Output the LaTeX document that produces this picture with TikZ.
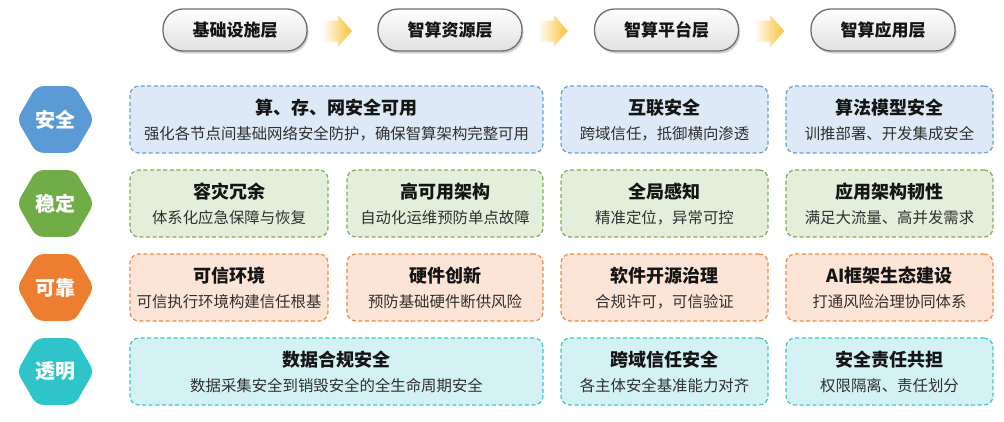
\documentclass[tikz,border=0pt]{standalone}
\usepackage{fontspec}
\setmainfont{Noto Sans CJK SC}
\usetikzlibrary{shapes.geometric,shadows,calc}
\definecolor{hexblue}{HTML}{5B9BD5}
\definecolor{hexgreen}{HTML}{70AD47}
\definecolor{hexorange}{HTML}{ED7D31}
\definecolor{hexteal}{HTML}{2EC4C9}
\definecolor{fillblue}{HTML}{DDE9F6}
\definecolor{fillgreen}{HTML}{E3EFDA}
\definecolor{fillorange}{HTML}{FCE4D6}
\definecolor{fillteal}{HTML}{D4F2F3}
\definecolor{lineblue}{HTML}{6A9FD8}
\definecolor{linegreen}{HTML}{7EAF58}
\definecolor{lineorange}{HTML}{EE8A4A}
\definecolor{lineteal}{HTML}{3EC6CA}
\definecolor{arrowY}{HTML}{F8C137}
\definecolor{pillline}{HTML}{6E6E6E}
\definecolor{titlecol}{HTML}{151515}
\definecolor{subcol}{HTML}{303030}
\tikzset{
  cellbox/.style={draw, dashed, dash pattern=on 4pt off 2.6pt, line width=1.2pt, rounded corners=9pt, inner sep=0pt},
  bluebox/.style={cellbox, draw=lineblue, fill=fillblue},
  greenbox/.style={cellbox, draw=linegreen, fill=fillgreen},
  orangebox/.style={cellbox, draw=lineorange, fill=fillorange},
  tealbox/.style={cellbox, draw=lineteal, fill=fillteal},
  ttl/.style={inner sep=0pt, text=titlecol, font=\fontsize{18}{21}\selectfont\bfseries},
  sub/.style={inner sep=0pt, text=subcol, font=\fontsize{15.4}{18}\selectfont},
  hexnode/.style={regular polygon, regular polygon sides=6, minimum size=77pt, inner sep=0pt, rounded corners=7pt, text=white, font=\fontsize{20}{23}\selectfont\bfseries},
  pill/.style={rectangle, rounded corners=20pt, minimum width=144pt, minimum height=42pt, draw=pillline, line width=1.3pt, top color=white, bottom color=black!12, drop shadow={opacity=0.35, shadow xshift=1.5pt, shadow yshift=-2.5pt}, font=\fontsize{17}{20}\selectfont\bfseries, text=titlecol},
}
\newcommand\cell[7]{%
  \node[#2, minimum width={#4-#3}, minimum height=67pt] (#1) at ({(#3+#4)/2},{#5+33.5}) {};
  \node[ttl] (#1t) at ($(#1.center)+(0,-12)$) {#6};
  \node[sub] (#1s) at ($(#1.center)+(0,14)$) {#7};
}
\newcommand\blockarrow[3]{%
  \coordinate (#1) at ($($(#2.east)!0.5!(#3.west)$)+(-5,1)$);
  \shade[left color=arrowY!4, right color=arrowY] ($(#1)+(-14.5,-10.5)$) -- ++(15,0) -- ++(0,-5.5) -- ++(14,16) -- ++(-14,16) -- ++(0,-5.5) -- ++(-15,0) -- cycle;
}
\begin{document}
\begin{tikzpicture}[x=1pt,y=-1pt]
\useasboundingbox (0,0) rectangle (1004,421);
% header pills
\node[pill] (p1) at (235,30) {基础设施层};
\node[pill] (p2) at (450,30) {智算资源层};
\node[pill] (p3) at (666.5,30) {智算平台层};
\node[pill] (p4) at (883,30) {智算应用层};
\blockarrow{a1}{p1}{p2}
\blockarrow{a2}{p2}{p3}
\blockarrow{a3}{p3}{p4}
% hexagons
\node[hexnode, fill=hexblue] (h1) at (55.5,119.5) {安全};
\node[hexnode, fill=hexgreen] (h2) at (55.5,203.5) {稳定};
\node[hexnode, fill=hexorange] (h3) at (55.5,287.5) {可靠};
\node[hexnode, fill=hexteal] (h4) at (55.5,371.5) {透明};
% row 1
\cell{c11}{bluebox}{130}{543}{86}{算、存、网安全可用}{强化各节点间基础网络安全防护，确保智算架构完整可用}
\cell{c13}{bluebox}{561}{768}{86}{互联安全}{跨域信任，抵御横向渗透}
\cell{c14}{bluebox}{786}{993}{86}{算法模型安全}{训推部署、开发集成安全}
% row 2
\cell{c21}{greenbox}{130}{328}{170}{容灾冗余}{体系化应急保障与恢复}
\cell{c22}{greenbox}{347}{543}{170}{高可用架构}{自动化运维预防单点故障}
\cell{c23}{greenbox}{561}{768}{170}{全局感知}{精准定位，异常可控}
\cell{c24}{greenbox}{786}{993}{170}{应用架构韧性}{满足大流量、高并发需求}
% row 3
\cell{c31}{orangebox}{130}{328}{254}{可信环境}{可信执行环境构建信任根基}
\cell{c32}{orangebox}{347}{543}{254}{硬件创新}{预防基础硬件断供风险}
\cell{c33}{orangebox}{561}{768}{254}{软件开源治理}{合规许可，可信验证}
\cell{c34}{orangebox}{786}{993}{254}{AI框架生态建设}{打通风险治理协同体系}
% row 4
\cell{c41}{tealbox}{130}{543}{338}{数据合规安全}{数据采集安全到销毁安全的全生命周期安全}
\cell{c43}{tealbox}{561}{768}{338}{跨域信任安全}{各主体安全基准能力对齐}
\cell{c44}{tealbox}{786}{993}{338}{安全责任共担}{权限隔离、责任划分}
\end{tikzpicture}
\end{document}
